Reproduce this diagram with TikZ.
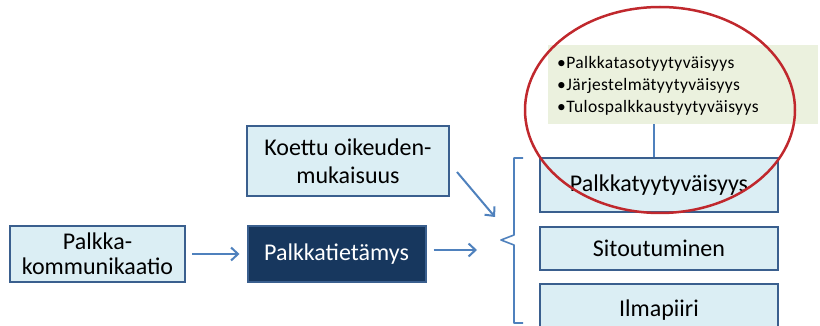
\documentclass[tikz,border=0pt]{standalone}
\usepackage{fontspec}
\setmainfont{Carlito}
\usetikzlibrary{arrows.meta,calc}
\definecolor{lblue}{HTML}{DBEEF4}
\definecolor{bord}{HTML}{3A5F8E}
\definecolor{navy}{HTML}{17375E}
\definecolor{lgreen}{HTML}{EBF1DE}
\definecolor{arr}{HTML}{4F81BD}
\definecolor{ered}{HTML}{C0282D}
\tikzset{
  lbox/.style={draw=bord, line width=2pt, fill=lblue, inner sep=0pt, font=\fontsize{24}{26}\selectfont, text=black, align=center},
  dbox/.style={draw=bord, line width=2pt, fill=navy, inner sep=0pt, font=\fontsize{24}{26}\selectfont, text=white, align=center},
  conn/.style={draw=arr, line width=2pt, -{Straight Barb[length=7pt,width=13pt,line width=2pt]}},
  plain/.style={draw=arr, line width=1.6pt},
}
\begin{document}
\begin{tikzpicture}[x=1pt,y=-1pt]
\useasboundingbox (0,0) rectangle (820,326);
% green box
\node[fill=lgreen, minimum width=270pt, minimum height=79pt, inner sep=0pt] (gr) at (683,84.5) {};
\node[anchor=north west, align=left, inner sep=0pt, font=\fontsize{17.5}{22}\selectfont\addfontfeature{LetterSpace=2.2}] (gt) at (557,56) {•Palkkatasotyytyväisyys\\•Järjestelmätyytyväisyys\\•Tulospalkkaustyytyväisyys};
% boxes
\node[lbox, minimum width=175pt, minimum height=56pt, font=\fontsize{24}{25}\selectfont] (pk) at (97.5,254) {Palkka-\\kommunikaatio};
\node[dbox, minimum width=178pt, minimum height=55pt] (pt) at (336.5,254) {Palkkatietämys};
\node[lbox, minimum width=202pt, minimum height=70pt, font=\fontsize{24}{28}\selectfont] (ko) at (348,161.5) {Koettu oikeuden-\\mukaisuus};
\node[lbox, minimum width=238pt, minimum height=54pt] (ps) at (659,185) {Palkkatyytyväisyys};
\node[lbox, minimum width=238pt, minimum height=43pt] (si) at (659,248.5) {Sitoutuminen};
\node[lbox, minimum width=238pt, minimum height=52pt] (il) at (659,310) {Ilmapiiri};
% brace
\coordinate (bt) at (501,240);
\draw[plain, line join=round] (523,158) -- (514,158) -- (514,235) -- (bt) -- (514,245) -- (514,323) -- (523,323);
% connectors
\draw[conn] ($(pk.east)+(6,0)$) -- ($(pt.west)+(-7,0)$);
\draw[conn] ($(pt.east)+(7,-4)$) -- ($(bt)+(-24,10)$);
\draw[conn] ($(ko.east)+(7,10.5)$) -- ($(bt)+(-6,-23)$);
\draw[plain] ([xshift=-5pt]ps.north) -- ([xshift=-5pt]ps.north |- gr.south);
% red ellipse
\draw[ered, line width=2.5pt] (660,110) ellipse [x radius=135, y radius=103];
\end{tikzpicture}
\end{document}
